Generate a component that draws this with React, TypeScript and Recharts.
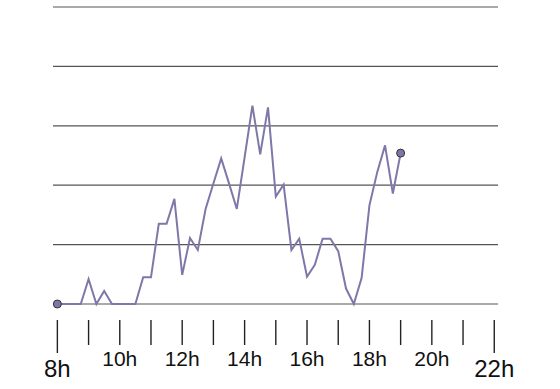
import { LineChart, Line, XAxis, YAxis, CartesianGrid } from 'recharts'

// one reading every quarter hour, 8h -> 19h
const startHour = 8
const values = [
  0, 0, 0, 0, 0.42, 0, 0.22, 0,
  0, 0, 0, 0.45, 0.45, 1.35, 1.35, 1.77,
  0.49, 1.11, 0.91, 1.6, 2.03, 2.45, 2.03, 1.6,
  2.47, 3.34, 2.52, 3.31, 1.81, 2.01, 0.91, 1.1,
  0.46, 0.66, 1.1, 1.1, 0.89, 0.26, 0, 0.44,
  1.66, 2.22, 2.67, 1.86, 2.54,
]
const hourTicks = [8, 9, 10, 11, 12, 13, 14, 15, 16, 17, 18, 19, 20, 21, 22]
const labelledHours = [8, 10, 12, 14, 16, 18, 20, 22]
const gridLevels = [0, 1, 2, 3, 4, 5]

const data = values.map((v, i) => ({ hour: startHour + i * 0.25, v }))

const font = '"Liberation Sans", Arial, sans-serif'

function HourTick(props: any) {
  const { x, y, payload } = props
  const h = payload.value
  const isEnd = h === 8 || h === 22
  return (
    <g>
      <line x1={x} x2={x} y1={y + 16} y2={y + (isEnd ? 49 : 41)} stroke="#222" strokeWidth={1.4} />
      {labelledHours.includes(h) && (
        <text x={x} y={y + (isEnd ? 73 : 62)} textAnchor="middle" fontFamily={font}
          fontSize={isEnd ? 24 : 21} fill="#111">
          {h}h
        </text>
      )}
    </g>
  )
}

function EndDot(props: any) {
  const { cx, cy, index } = props
  if (index !== 0 && index !== data.length - 1) return <g key={index} />
  return <circle key={index} cx={cx} cy={cy} r={4} fill="#7d78a8" stroke="#333" strokeWidth={1} />
}

export default function App() {
  return (
    <div style={{ position: 'absolute', left: 0, top: 0, width: 560, height: 389, background: '#fff' }}>
      <LineChart width={560} height={389} data={data} margin={{ top: 7, right: 62, bottom: 0, left: 53 }}>
        <CartesianGrid vertical={false} stroke="#555" strokeWidth={1.2} />
        <XAxis dataKey="hour" type="number" domain={[7.86, 22.12]} ticks={hourTicks} interval={0}
          height={85} axisLine={false} tickLine={false} tickSize={0} tickMargin={0} tick={<HourTick />} />
        <YAxis hide domain={[0, 5]} ticks={gridLevels} />
        <Line dataKey="v" type="linear" stroke="#7d78a8" strokeWidth={2} dot={<EndDot />}
          activeDot={false} isAnimationActive={false} />
      </LineChart>
    </div>
  )
}
